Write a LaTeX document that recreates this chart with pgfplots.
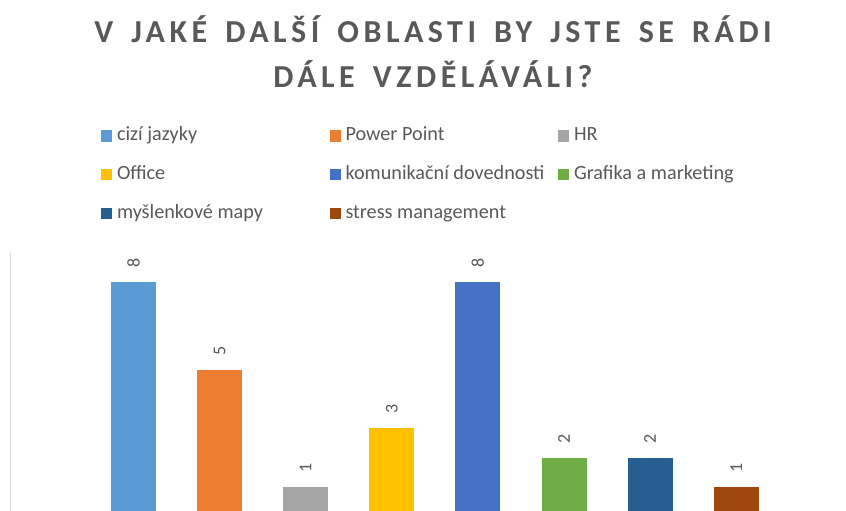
\documentclass[border=0pt]{standalone}
\usepackage{fontspec}
\setmainfont{Carlito}
\newfontfamily\titlefont[LetterSpace=14, WordSpace=1.55]{Carlito}
\usepackage{pgfplots}
\pgfplotsset{compat=1.18}
\definecolor{c1}{HTML}{5B9BD5}
\definecolor{c2}{HTML}{ED7D31}
\definecolor{c3}{HTML}{A5A5A5}
\definecolor{c4}{HTML}{FFC000}
\definecolor{c5}{HTML}{4472C4}
\definecolor{c6}{HTML}{70AD47}
\definecolor{c7}{HTML}{255E91}
\definecolor{c8}{HTML}{9E480E}
\definecolor{txt}{HTML}{595959}
\begin{document}
\begin{tikzpicture}[x=1pt,y=1pt]
\path[use as bounding box] (0,0) rectangle (846,511);
\node[font=\titlefont\bfseries\fontsize{32}{38}\selectfont, text=txt, inner sep=0pt, anchor=base] at (433,468.3) {V JAKÉ DALŠÍ OBLASTI BY JSTE SE RÁDI};
\node[font=\titlefont\bfseries\fontsize{32}{38}\selectfont, text=txt, inner sep=0pt, anchor=base] at (433,423) {DÁLE VZDĚLÁVÁLI?};
\begin{axis}[
  at={(10pt,0pt)}, anchor=south west,
  scale only axis, width=836pt, height=258pt,
  xmin=-1.434, xmax=8.275, ymin=0.17, ymax=9,
  axis x line=none, axis y line*=left,
  ytick=\empty, xtick=\empty,
  y axis line style={draw=black!15, line width=1pt},
  /pgf/number format/assume math mode=true,
  ybar, bar width=45pt, bar shift=0pt,
  nodes near coords,
  every node near coord/.append style={font=\fontsize{18}{20}\selectfont, text=txt, anchor=center, yshift=19pt, rotate=90},
  legend columns=3,
  legend cell align=left,
  legend image code/.code={\fill[#1,draw=none] (0pt,-5.5pt) rectangle (11pt,5.5pt); \path (16pt,0pt);},
  legend style={at={(0.10885,1.4922)}, anchor=north west, draw=none, fill=none, inner sep=0pt, outer sep=0pt,
    column sep=0pt, row sep=18.5pt, font=\fontsize{20.2}{24}\selectfont, text=txt,
    nodes={inner sep=0pt, text height=15pt, text depth=5pt}},
]
\addplot[fill=c1, draw=none] coordinates {(0,8)};
\addlegendentry{\makebox[212.5pt][l]{cizí jazyky}}
\addplot[fill=c2, draw=none] coordinates {(1,5)};
\addlegendentry{\makebox[212.5pt][l]{Power Point}}
\addplot[fill=c3, draw=none] coordinates {(2,1)};
\addlegendentry{\makebox[212.5pt][l]{HR}}
\addplot[fill=c4, draw=none] coordinates {(3,3)};
\addlegendentry{\makebox[212.5pt][l]{Office}}
\addplot[fill=c5, draw=none] coordinates {(4,8)};
\addlegendentry{\makebox[212.5pt][l]{komunikační dovednosti}}
\addplot[fill=c6, draw=none] coordinates {(5,2)};
\addlegendentry{\makebox[212.5pt][l]{Grafika a marketing}}
\addplot[fill=c7, draw=none] coordinates {(6,2)};
\addlegendentry{\makebox[212.5pt][l]{myšlenkové mapy}}
\addplot[fill=c8, draw=none] coordinates {(7,1)};
\addlegendentry{\makebox[212.5pt][l]{stress management}}
\end{axis}
\end{tikzpicture}
\end{document}
